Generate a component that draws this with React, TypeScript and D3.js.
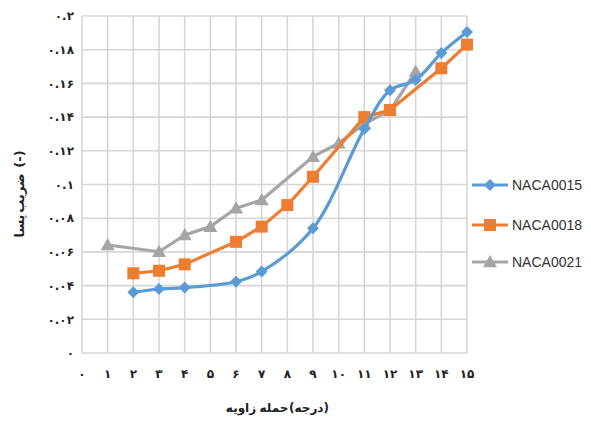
import React from "react";
import * as d3 from "d3";

const xTicks = [0, 1, 2, 3, 4, 5, 6, 7, 8, 9, 10, 11, 12, 13, 14, 15];
const yTicks = [0, 0.02, 0.04, 0.06, 0.08, 0.1, 0.12, 0.14, 0.16, 0.18, 0.2];
const yTickLabels = ["۰", "۰.۰۲", "۰.۰۴", "۰.۰۶", "۰.۰۸", "۰.۱", "۰.۱۲", "۰.۱۴", "۰.۱۶", "۰.۱۸", "۰.۲"];
const xTickLabels = ["۰", "۱", "۲", "۳", "۴", "۵", "۶", "۷", "۸", "۹", "۱۰", "۱۱", "۱۲", "۱۳", "۱۴", "۱۵"];
const xTitleWords = ["زاویه", "حمله", "(درجه)"];
const yTitleWords = ["پسا", "ضریب", "(-)"];

const naca0015X = [2, 3, 4, 6, 7, 9, 11, 12, 13, 14, 15];
const naca0015Y = [0.036, 0.038, 0.0388, 0.0423, 0.0483, 0.074, 0.133, 0.156, 0.162, 0.178, 0.1905];
const naca0018X = [2, 3, 4, 6, 7, 8, 9, 11, 12, 14, 15];
const naca0018Y = [0.0473, 0.0488, 0.0526, 0.066, 0.075, 0.0878, 0.1046, 0.140, 0.1442, 0.169, 0.183];
const naca0021X = [1, 3, 4, 5, 6, 7, 9, 10, 11, 12, 13];
const naca0021Y = [0.0641, 0.0601, 0.070, 0.075, 0.0859, 0.0908, 0.1165, 0.1245, 0.136, 0.144, 0.167];

const seriesNames = ["NACA0015", "NACA0018", "NACA0021"];
const seriesColors = ["#5B9BD5", "#ED7D31", "#A5A5A5"];

const W = 591;
const H = 424;
const left = 82;
const right = 467;
const top = 16;
const bottom = 353;

const x = d3.scaleLinear().domain([0, 15]).range([left, right]);
const y = d3.scaleLinear().domain([0, 0.2]).range([bottom, top]);

type Pt = [number, number];

function Marker({ kind, cx, cy, color }: { kind: string; cx: number; cy: number; color: string }) {
  if (kind === "diamond") {
    const r = 6;
    return <path d={`M${cx},${cy - r}L${cx + r},${cy}L${cx},${cy + r}L${cx - r},${cy}Z`} fill={color} />;
  }
  if (kind === "square") {
    const s = 12;
    return <rect x={cx - s / 2} y={cy - s / 2} width={s} height={s} fill={color} />;
  }
  const r = 7;
  return <path d={`M${cx},${cy - r}L${cx + r},${cy + r * 0.75}L${cx - r},${cy + r * 0.75}Z`} fill={color} />;
}

export default function App() {
  const series = [
    { xs: naca0015X, ys: naca0015Y, kind: "diamond", smooth: true },
    { xs: naca0018X, ys: naca0018Y, kind: "square", smooth: false },
    { xs: naca0021X, ys: naca0021Y, kind: "triangle", smooth: false },
  ];
  const lineSmooth = d3.line<Pt>().x((d) => x(d[0])).y((d) => y(d[1])).curve(d3.curveCatmullRom.alpha(0.5));
  const lineStraight = d3.line<Pt>().x((d) => x(d[0])).y((d) => y(d[1]));
  const order = [2, 1, 0];
  const legendY = [185, 225, 262];
  const fa = "'DejaVu Sans', 'Noto Sans', sans-serif";
  const xTitlePos = [241, 274, 309];
  const yTitlePos = [226, 193, 159];

  return (
    <svg width={W} height={H} style={{ position: "absolute", left: 0, top: 0, background: "#fff" }}>
      <rect x={0} y={0} width={W} height={H} fill="#fff" />
      {xTicks.map((t) => (
        <line key={"vx" + t} x1={x(t)} x2={x(t)} y1={top} y2={bottom} stroke="#D6D6D6" strokeWidth={1.6} />
      ))}
      {yTicks.map((t) => (
        <line key={"hy" + t} x1={left} x2={right} y1={y(t)} y2={y(t)} stroke="#D6D6D6" strokeWidth={1.6} />
      ))}
      {yTicks.map((t, i) => (
        <text key={"yl" + t} x={74} y={y(t)} dy="0.35em" textAnchor="end" fontFamily={fa} fontWeight="bold" fontSize={12} fill="#222">
          {yTickLabels[i]}
        </text>
      ))}
      {xTicks.map((t, i) => (
        <text key={"xl" + t} x={x(t)} y={378} textAnchor="middle" fontFamily={fa} fontWeight="bold" fontSize={12} fill="#222">
          {xTickLabels[i]}
        </text>
      ))}
      {order.map((si) => {
        const s = series[si];
        const pts: Pt[] = s.xs.map((v, i) => [v, s.ys[i]]);
        const gen = s.smooth ? lineSmooth : lineStraight;
        return (
          <g key={"s" + si}>
            <path d={gen(pts) || ""} fill="none" stroke={seriesColors[si]} strokeWidth={3.2} strokeLinejoin="round" />
            {pts.map((p, i) => (
              <Marker key={i} kind={s.kind} cx={x(p[0])} cy={y(p[1])} color={seriesColors[si]} />
            ))}
          </g>
        );
      })}
      {series.map((s, si) => (
        <g key={"lg" + si}>
          <line x1={472} x2={508} y1={legendY[si]} y2={legendY[si]} stroke={seriesColors[si]} strokeWidth={3.2} />
          <Marker kind={s.kind} cx={490} cy={legendY[si]} color={seriesColors[si]} />
          <text x={512} y={legendY[si]} dy="0.35em" fontFamily="'Liberation Sans', Arial, sans-serif" fontSize={14} fill="#333">
            {seriesNames[si]}
          </text>
        </g>
      ))}
      {xTitleWords.map((w, i) => (
        <text key={"xt" + i} x={xTitlePos[i]} y={412} textAnchor="middle" fontFamily={fa} fontWeight="bold" fontSize={12} fill="#222">
          {w}
        </text>
      ))}
      <g transform="translate(24,0) rotate(-90)">
        {yTitleWords.map((w, i) => (
          <text key={"yt" + i} x={-yTitlePos[i]} y={0} textAnchor="middle" fontFamily={fa} fontWeight="bold" fontSize={13} fill="#222">
            {w}
          </text>
        ))}
      </g>
    </svg>
  );
}
